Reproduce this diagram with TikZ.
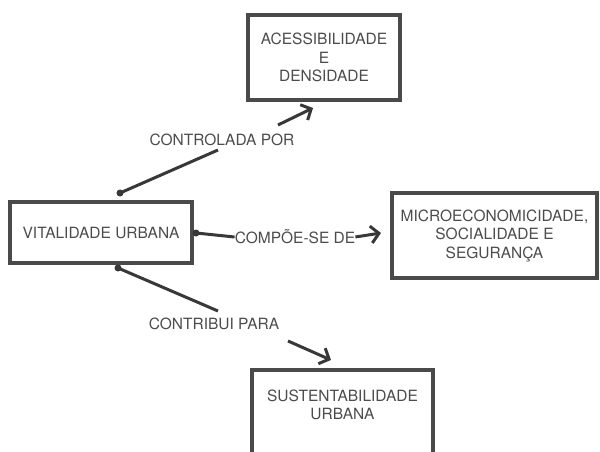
\documentclass[tikz,border=0pt]{standalone}
\usepackage{fontspec}
\setmainfont{TeX Gyre Heros}
\usepackage{tikz}
\usetikzlibrary{arrows.meta}
\definecolor{boxgray}{HTML}{4A4A4A}
\definecolor{txtgray}{HTML}{4C4C4C}
\definecolor{linegray}{HTML}{383838}
\tikzset{
  conceito/.style={shape=rectangle,draw=boxgray,line width=3.5pt,text=txtgray,
    align=center,inner sep=0,font=\fontsize{15.5}{18.5}\selectfont},
  rotulo/.style={text=txtgray,inner sep=0,font=\fontsize{15.5}{18.5}\selectfont},
  ponto/.style={shape=circle,fill=linegray,minimum size=7pt,inner sep=0},
  ligacao/.style={draw=linegray,line width=3pt},
  seta/.style={draw=linegray,line width=3pt,-{Straight Barb[length=8pt,width=17pt]}}
}
\begin{document}
\begin{tikzpicture}[x=1pt,y=-1pt]
      \useasboundingbox (0,0) rectangle (600,452);
      \clip (0,0) rectangle (600,452);
      \node[conceito,minimum width=182,minimum height=61] (vit) at (101,232.5) {VITALIDADE URBANA};
      \node[conceito,minimum width=152,minimum height=85] (acess) at (324,57.5) {ACESSIBILIDADE\\E\\DENSIDADE};
      \node[conceito,minimum width=205,minimum height=85] (micro) at (494.5,235.5) {MICROECONOMICIDADE,\\SOCIALIDADE E\\SEGURANÇA};
      \node[conceito,minimum width=181,minimum height=110] (sust) at (342.5,425) {SUSTENTABILIDADE\\URBANA\\[22pt]};
      \node[rotulo] (ctrl) at (222,140) {CONTROLADA POR};
      \node[rotulo] (comp) at (295,237) {COMPÕE-SE DE};
      \node[rotulo] (contr) at (214,324) {CONTRIBUI PARA};
      % pontas dos conectores
      \node[ponto] (v1) at (120,193) {};
      \node[ponto] (v2) at (196,233) {};
      \node[ponto] (v3) at (118,268) {};
      \coordinate (c1) at (218,150);
      \coordinate (c2) at (278,125);
      \coordinate (a1) at (313,108);
      \coordinate (m1) at (381,233);
      \coordinate (t1) at (218,311);
      \coordinate (t2) at (288,341);
      \coordinate (s1) at (331,360);
      \begin{scope}
        \draw[ligacao] (v1.center) -- (c1);
        \draw[seta] (c2) -- (a1);
        \draw[ligacao] (v2.center) -- (comp.west);
        \draw[seta] (comp.east) -- (m1);
        \draw[ligacao] (v3.center) -- (t1);
        \draw[seta] (t2) -- (s1);
      \end{scope}
    \end{tikzpicture}
\end{document}
